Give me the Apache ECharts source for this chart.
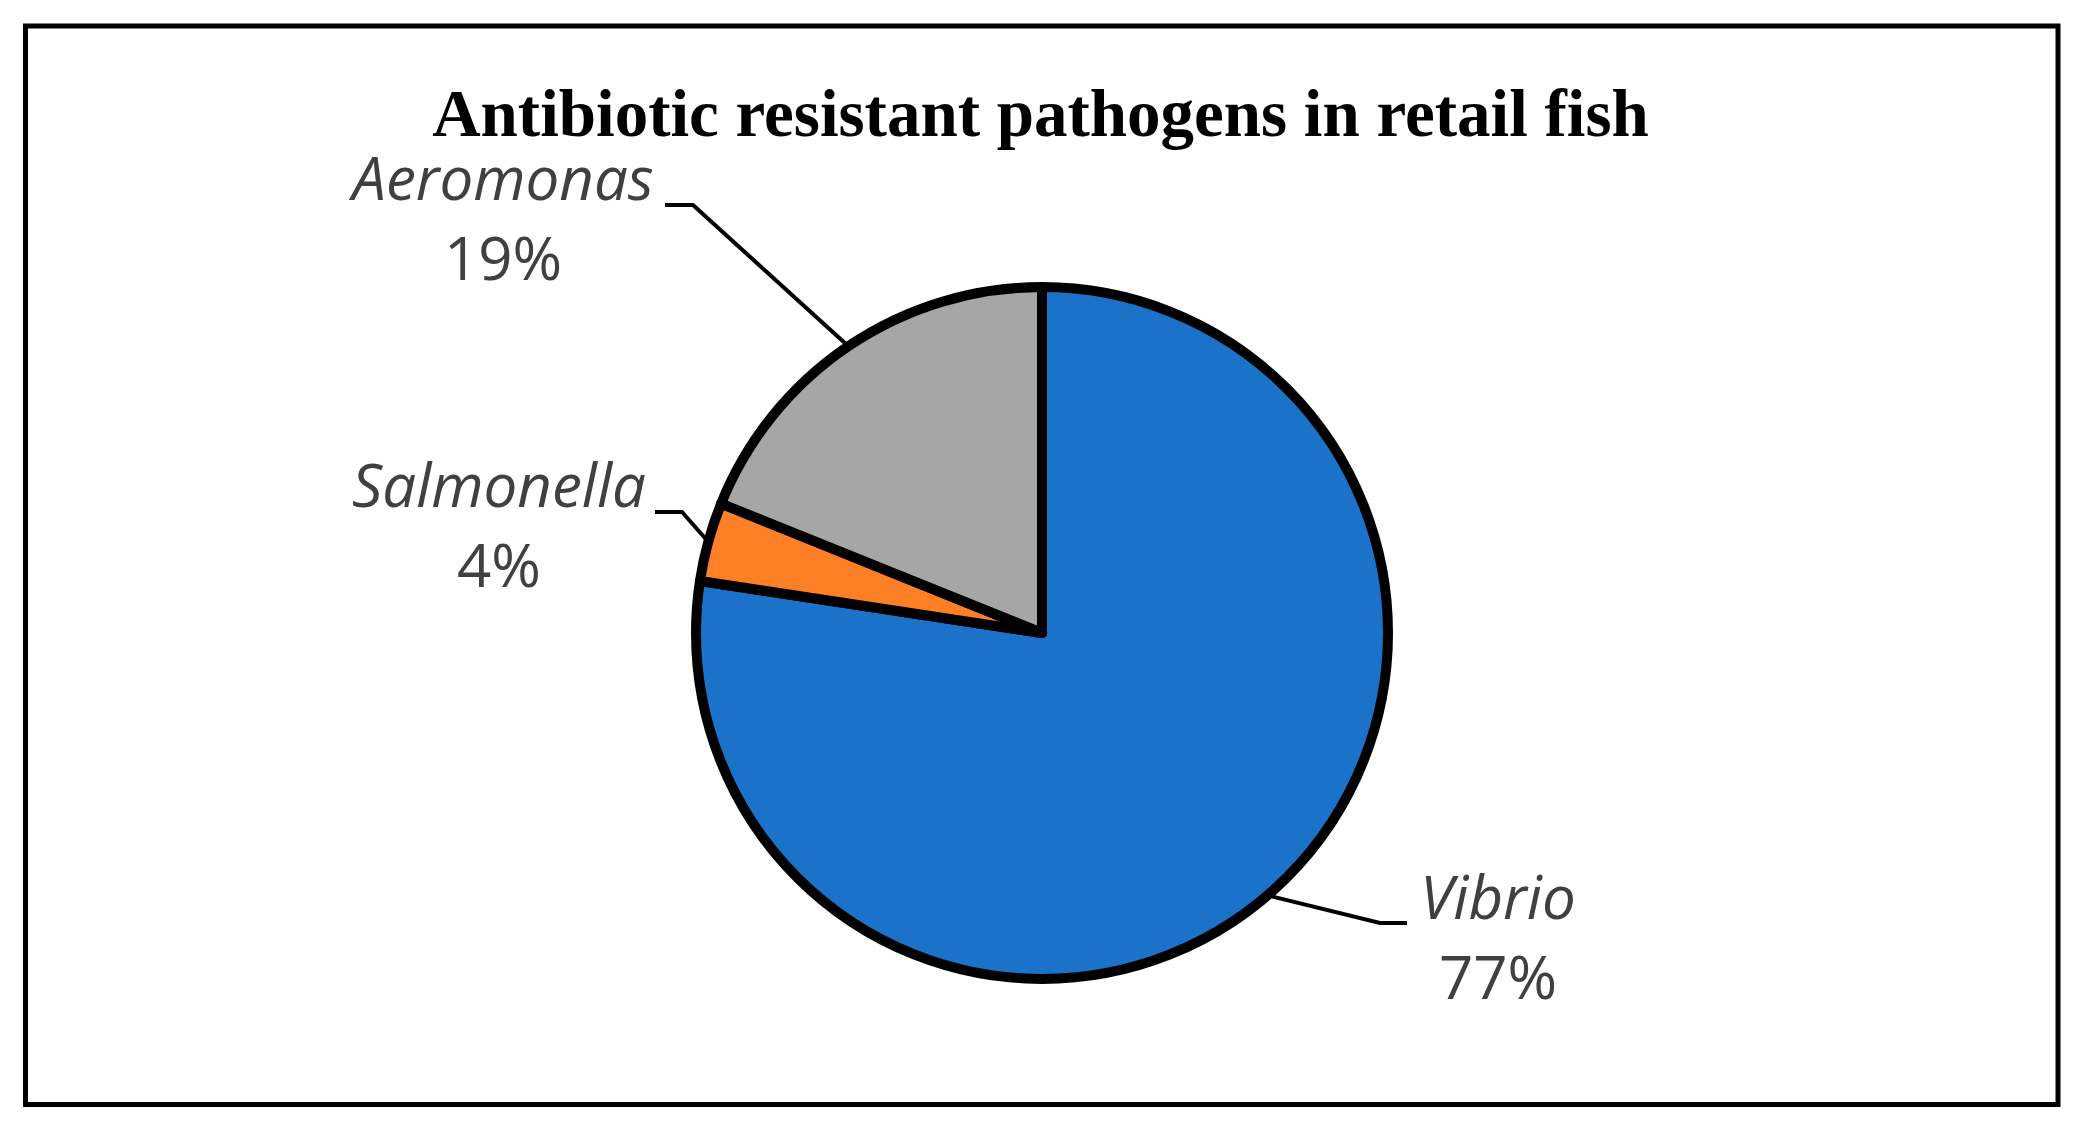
<!DOCTYPE html>
<html>
<head>
<meta charset="utf-8">
<script src="https://cdn.jsdelivr.net/npm/echarts/dist/echarts.min.js"></script>
<style>
	html, body {
		margin: 0;
		padding: 0;
		background: #fff;
	}

	#chart {
		width: 2081px;
		height: 1126px;
	}
</style>
</head>
<body>
<div id="chart"></div>
<script>
const categories = ["Vibrio", "Salmonella", "Aeromonas"];
const shares = [77.4, 3.7, 18.9];

const sliceColors = ["#1a73c8", "#fd7f26", "#a6a6a6"];

// where each label block sits, plus the elbow and end of its leader
const labelSpots = [
	{x: 1498, y: 942, elbow: [1380, 923], end: [1407, 923]},
	{x: 499, y: 530, elbow: [682, 512], end: [655, 512]},
	{x: 503, y: 223, elbow: [693, 205], end: [665, 205]}
];

const center = [1042, 633];
const radius = 346;

function edgePoint(idx) {
	// middle of the slice on the rim, clockwise from 12 o'clock
	const total = shares.reduce((a, b) => a + b, 0);
	let before = 0;
	for (let i = 0; i < idx; i++) before += shares[i];
	const frac = (before + shares[idx] / 2) / total;
	const ang = frac * Math.PI * 2;
	return [center[0] + radius * Math.sin(ang), center[1] - radius * Math.cos(ang)];
}

const chartDom = document.getElementById("chart");
const myChart = echarts.init(chartDom);
let option;

option = {
	backgroundColor: "#fff",
	animation: false,
	title: {
		text: "Antibiotic resistant pathogens in retail fish",
		left: "center",
		top: 80,
		textStyle: {
			fontFamily: "Liberation Serif",
			fontWeight: "bold",
			fontSize: 67,
			color: "#000"
		}
	},
	graphic: [{
		type: "rect",
		shape: {x: 25.5, y: 26, width: 2032.5, height: 1078.5},
		style: {fill: "none", stroke: "#000", lineWidth: 5},
		silent: true
	}],
	series: [{
		type: "pie",
		center: center,
		radius: radius,
		startAngle: 90,
		clockwise: true,
		percentPrecision: 0,
		data: categories.map((name, i) => ({
			name: name,
			value: shares[i],
			itemStyle: {color: sliceColors[i]}
		})),
		itemStyle: {
			borderColor: "#000",
			borderWidth: 10
		},
		emphasis: {disabled: true},
		label: {
			show: true,
			position: "outside",
			formatter: "{n|{b}}\n{p|{d}%}",
			rich: {
				n: {
					fontFamily: "Open Sans",
					fontStyle: "italic",
					fontSize: 60,
					color: "#404040",
					lineHeight: 80,
					align: "center"
				},
				p: {
					fontFamily: "Open Sans",
					fontSize: 60,
					color: "#404040",
					lineHeight: 80,
					align: "center"
				}
			}
		},
		labelLine: {
			show: true,
			smooth: false,
			lineStyle: {
				color: "#000",
				width: 4
			}
		},
		labelLayout: (params) => {
			const spot = labelSpots[params.dataIndex];
			const start = params.labelLinePoints ? params.labelLinePoints[0] : edgePoint(params.dataIndex);
			return {
				x: spot.x,
				y: spot.y,
				align: "center",
				verticalAlign: "middle",
				labelLinePoints: [start, spot.elbow, spot.end]
			};
		}
	}]
};

option && myChart.setOption(option);
</script>
</body>
</html>
